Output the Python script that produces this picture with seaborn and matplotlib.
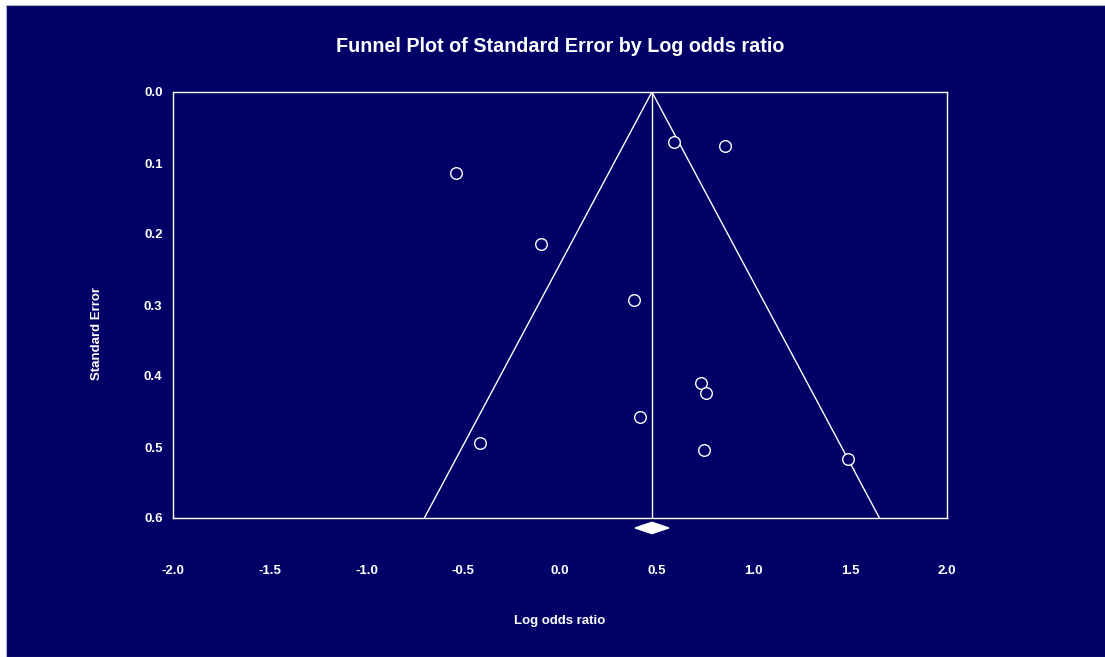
import numpy as np
import pandas as pd
import seaborn as sns
import matplotlib.pyplot as plt
from matplotlib.patches import Rectangle, Polygon

# Datos
log_odds = [0.589, 0.853, -0.539, -0.100, 0.382, 0.727, 0.755, 0.413, -0.413, 0.744, 1.487]
std_err = [0.071, 0.076, 0.114, 0.214, 0.293, 0.410, 0.424, 0.458, 0.494, 0.504, 0.517]
pooled = 0.475
pooled_lo = 0.388
pooled_hi = 0.563
x_ticks = [-2.0, -1.5, -1.0, -0.5, 0.0, 0.5, 1.0, 1.5, 2.0]
y_ticks = [0.0, 0.1, 0.2, 0.3, 0.4, 0.5, 0.6]

navy = "#000066"
df = pd.DataFrame({"Log odds ratio": log_odds, "Standard Error": std_err})

sns.set_style("dark")
plt.rcParams["font.family"] = ["Liberation Sans", "DejaVu Sans"]
plt.rcParams["font.weight"] = "bold"

fig = plt.figure(figsize=(11.05, 6.57), dpi=100, facecolor="white")
# fondo azul con borde blanco arriba e izquierda
fig.patches.append(Rectangle((6 / 1105, 0), 1, 1 - 5 / 657, transform=fig.transFigure,
                             facecolor=navy, edgecolor="#b0b0c8", linewidth=0.8, zorder=-10))

ax = fig.add_axes([173 / 1105, 1 - 518 / 657, 774 / 1105, 426 / 657])
ax.set_facecolor(navy)

# embudo (media +/- 1.96*SE)
se_max = 0.6
ax.plot([pooled - 1.96 * se_max, pooled, pooled + 1.96 * se_max], [se_max, 0, se_max],
        color="white", lw=1)
ax.plot([pooled, pooled], [0, se_max], color="white", lw=1)

sns.scatterplot(data=df, x="Log odds ratio", y="Standard Error", ax=ax, s=70,
                facecolor=navy, edgecolor="white", linewidth=1, zorder=3)

# diamante del efecto combinado
dy = 0.614
diamond = Polygon([[pooled_lo, dy], [pooled, dy - 0.008], [pooled_hi, dy], [pooled, dy + 0.008]],
                  closed=True, facecolor="white", edgecolor="white", clip_on=False, zorder=4)
ax.add_patch(diamond)

ax.set_xlim(-2.0, 2.0)
ax.set_ylim(0.6, 0.0)
ax.set_xticks(x_ticks)
ax.set_yticks(y_ticks)
ax.set_xticklabels([f"{v:.1f}" for v in x_ticks])
ax.set_yticklabels([f"{v:.1f}" for v in y_ticks])
ax.grid(False)
for sp in ax.spines.values():
    sp.set_visible(True)
    sp.set_color("white")
    sp.set_linewidth(1)

ax.tick_params(axis="x", direction="inout", length=6, width=1, color="white",
               labelcolor="white", labelsize=9.5, pad=31)
ax.tick_params(axis="y", direction="out", length=4, width=1, color="white",
               labelcolor="white", labelsize=9.5, pad=3.5)
for lab in ax.get_xticklabels() + ax.get_yticklabels():
    lab.set_fontweight("bold")

ax.set_xlabel("Log odds ratio", color="white", fontsize=9.5, fontweight="bold")
ax.set_ylabel("Standard Error", color="white", fontsize=9.5, fontweight="bold")
ax.xaxis.set_label_coords(0.5, -0.228)
ax.yaxis.set_label_coords(-0.0904, 0.434)

fig.text(560 / 1105, 1 - 47 / 657, "Funnel Plot of Standard Error by Log odds ratio",
         color="white", fontsize=14.2, fontweight="bold", ha="center", va="center")

fig.savefig("out.png", dpi=100, facecolor=fig.get_facecolor())
